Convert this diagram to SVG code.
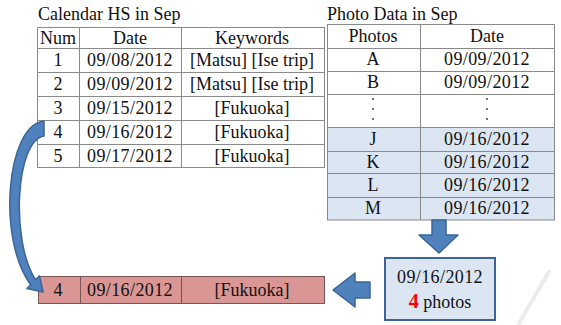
<svg xmlns="http://www.w3.org/2000/svg" width="561" height="325" viewBox="0 0 561 325" font-family="'Liberation Serif', 'Times New Roman', Tinos, 'DejaVu Serif', serif">
<style>
text{font-family:'Liberation Serif','Times New Roman',Tinos,'DejaVu Serif',serif;font-size:18px;fill:#111}
.c{text-anchor:middle}
.d{letter-spacing:0.4px}
.g{stroke:#8a8a8a;stroke-width:1;fill:none}
.blue{fill:#dce6f2}
.arrow{fill:#4f81bd;stroke:#3a6596;stroke-width:1.5;stroke-linejoin:round}
</style>
<rect x="0" y="0" width="561" height="325" fill="#fff"/>
<line x1="550" y1="270" x2="518" y2="325" stroke="#ececec" stroke-width="4"/>

<g id="calendar-table">
<text x="38" y="20">Calendar HS in Sep</text>
<rect x="37.5" y="27.5" width="287" height="140" class="g"/>
<path class="g" d="M79.5,27.5V167.5 M181.5,27.5V167.5 M37.5,48.5H324.5 M37.5,72.5H324.5 M37.5,96.5H324.5 M37.5,120.5H324.5 M37.5,144.5H324.5"/>
<text x="58" y="44" class="c">Num</text>
<text x="130" y="44" class="c">Date</text>
<text x="252" y="44" class="c">Keywords</text>
<text x="58" y="66" class="c">1</text>
<text x="130" y="66" class="c d">09/08/2012</text>
<text x="252" y="66" class="c">[Matsu] [Ise trip]</text>
<text x="58" y="90" class="c">2</text>
<text x="130" y="90" class="c d">09/09/2012</text>
<text x="252" y="90" class="c">[Matsu] [Ise trip]</text>
<text x="58" y="114" class="c">3</text>
<text x="130" y="114" class="c d">09/15/2012</text>
<text x="252" y="114" class="c">[Fukuoka]</text>
<text x="58" y="138" class="c">4</text>
<text x="130" y="138" class="c d">09/16/2012</text>
<text x="252" y="138" class="c">[Fukuoka]</text>
<text x="58" y="162" class="c">5</text>
<text x="130" y="162" class="c d">09/17/2012</text>
<text x="252" y="162" class="c">[Fukuoka]</text>
</g>

<g id="photo-table">
<text x="327" y="20">Photo Data in Sep</text>
<rect x="327.5" y="127.5" width="227" height="92.5" class="blue"/>
<rect x="327.5" y="24.5" width="227" height="195.5" class="g"/>
<path class="g" d="M420.5,24.5V220 M327.5,48.5H554.5 M327.5,71.5H554.5 M327.5,94.5H554.5 M327.5,127.5H554.5 M327.5,151.5H554.5 M327.5,173.5H554.5 M327.5,197.5H554.5"/>
<text x="373" y="42" class="c">Photos</text>
<text x="487" y="42" class="c">Date</text>
<text x="373" y="65" class="c">A</text>
<text x="487" y="65" class="c d">09/09/2012</text>
<text x="373" y="88" class="c">B</text>
<text x="487" y="88" class="c d">09/09/2012</text>
<g fill="#333">
<circle cx="373" cy="99" r="0.9"/><circle cx="373" cy="109" r="0.9"/><circle cx="373" cy="119" r="0.9"/>
<circle cx="487" cy="99" r="0.9"/><circle cx="487" cy="109" r="0.9"/><circle cx="487" cy="119" r="0.9"/>
</g>
<text x="373" y="145" class="c">J</text>
<text x="487" y="145" class="c d">09/16/2012</text>
<text x="373" y="168" class="c">K</text>
<text x="487" y="168" class="c d">09/16/2012</text>
<text x="373" y="191" class="c">L</text>
<text x="487" y="191" class="c d">09/16/2012</text>
<text x="373" y="214" class="c">M</text>
<text x="487" y="214" class="c d">09/16/2012</text>
</g>

<g id="summary-box">
<rect x="385" y="258" width="110" height="62" fill="#dce6f2" stroke="#3f6494" stroke-width="2"/>
<text x="440" y="283" class="c d">09/16/2012</text>
<text x="440" y="308" class="c"><tspan fill="#ff0000" font-weight="bold" font-size="20">4</tspan> photos</text>
</g>

<g id="result-row">
<rect x="38.5" y="276.5" width="286" height="27" fill="#d99694" stroke="#7a5554" stroke-width="1"/>
<path d="M80.5,276.5V303.5 M181.5,276.5V303.5" stroke="#7a5554" stroke-width="1"/>
<text x="58" y="296" class="c">4</text>
<text x="130" y="296" class="c d">09/16/2012</text>
<text x="252" y="296" class="c">[Fukuoka]</text>
</g>

<g id="connectors">
<path class="arrow" d="M44,121 C 6,125 -3,240 30.7,284.7 L26.9,288.5 L43,292 L39.5,275.9 L35.5,279.7 C 10,240 16,140 44,136 Z"/>
<path class="arrow" d="M432,220 H446 V235 H458 L439,253 L419,235 H432 Z"/>
<path class="arrow" d="M370,282 H355 V273 L333,290 L355,307 V298 H370 Z"/>
</g>
</svg>
